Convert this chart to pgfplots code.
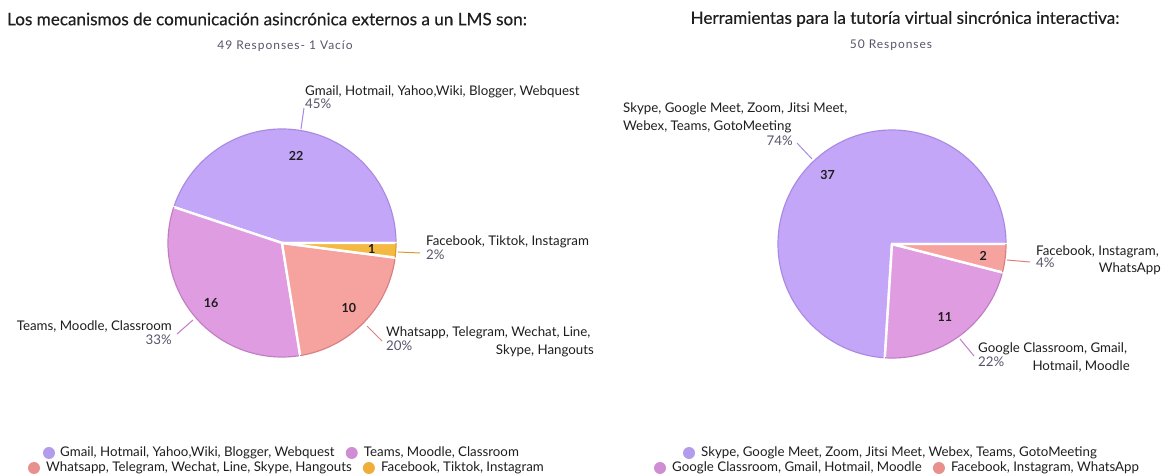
\documentclass[border=0pt]{standalone}
\usepackage{fontspec}
\setmainfont{Lato}
\usepackage{pgfplots}
\usepackage{pgfplotstable}
\pgfplotsset{compat=1.18}

\definecolor{cPur}{HTML}{C4A6F8}
\definecolor{cPurR}{HTML}{A88AE4}
\definecolor{cPnk}{HTML}{E09CE0}
\definecolor{cPnkR}{HTML}{C27CC6}
\definecolor{cSal}{HTML}{F6A29E}
\definecolor{cSalR}{HTML}{D88080}
\definecolor{cOrg}{HTML}{F4B942}
\definecolor{cOrgR}{HTML}{D99B28}
\definecolor{lPur}{HTML}{B49CEC}
\definecolor{lPnk}{HTML}{CF8DD4}
\definecolor{lSal}{HTML}{E8908E}
\definecolor{lOrg}{HTML}{EFAE3A}
\definecolor{txt}{HTML}{1E1E1E}
\definecolor{pct}{HTML}{55556A}

% respuestas por grupo
\pgfplotstableread{
grupo n
Gmail 22
Teams 16
Whatsapp 10
Facebook 1
}\pieone
\pgfplotstableread{
grupo n
Skype 37
Google 11
Facebook 2
}\pietwo

\newcommand\getn[3]{\pgfplotstablegetelem{#2}{n}\of#1\edef#3{\pgfplotsretval}}
\getn\pieone{0}\oA \getn\pieone{1}\oB \getn\pieone{2}\oC \getn\pieone{3}\oD
\getn\pietwo{0}\tA \getn\pietwo{1}\tB \getn\pietwo{2}\tC

% cumulative angles
\pgfmathsetmacro\oT{\oA+\oB+\oC+\oD}
\pgfmathsetmacro\oa{360*\oA/\oT}
\pgfmathsetmacro\ob{\oa+360*\oB/\oT}
\pgfmathsetmacro\oc{\ob+360*\oC/\oT}
\pgfmathsetmacro\tT{\tA+\tB+\tC}
\pgfmathsetmacro\ta{360*\tA/\tT}
\pgfmathsetmacro\tb{\ta+360*\tB/\tT}

% cx, cy, from, to, fill, rim
\newcommand\slice[6]{%
  \addplot[draw=white, line width=2.4pt, fill=#5, line join=round,
    domain=#3:#4, samples=120, variable=\t]
    ({#1+115*cos(t)},{#2-115*sin(t)}) -- (axis cs:#1,#2) -- cycle;
  \addplot[draw=#6, line width=1.2pt, domain=#3:#4, samples=120, variable=\t]
    ({#1+114*cos(t)},{#2-114*sin(t)});
}
% cx, cy, from, to, radius, text
\newcommand\num[6]{%
  \node[font=\bfseries\fontsize{12.5}{13}\selectfont, text=txt]
    at (axis cs:{#1+#5*cos((#3+#4)/2)},{#2-#5*sin((#3+#4)/2)}) {#6};
}
\newcommand\lab{\fontsize{13.3}{15}\selectfont}
\newcommand\sub{\fontsize{12}{14}\selectfont\addfontfeatures{LetterSpace=8}}
\newcommand\ttl{\fontsize{17.1}{20}\selectfont\addfontfeatures{FakeBold=0.4}}

\begin{document}
\begin{tikzpicture}
\useasboundingbox (0,0) rectangle (1162pt,476pt);
\begin{axis}[at={(581pt,238pt)}, anchor=center, scale only axis,
  width=1162pt, height=476pt, xmin=0, xmax=1162, ymin=0, ymax=476,
  y dir=reverse, hide axis, clip=false]
\slice{282}{243}{0}{\oa}{cPur}{cPurR}
\slice{282}{243}{\oa}{\ob}{cPnk}{cPnkR}
\slice{282}{243}{\ob}{\oc}{cSal}{cSalR}
\slice{282}{243}{\oc}{360}{cOrg}{cOrgR}
\num{282}{243}{0}{\oa}{88}{\oA}
\num{282}{243}{\oa}{\ob}{93}{\oB}
\num{282}{243}{\ob}{\oc}{93}{\oC}
\num{282}{243}{\oc}{360}{90}{\oD}

\slice{892}{244}{0}{\ta}{cPur}{cPurR}
\slice{892}{244}{\ta}{\tb}{cPnk}{cPnkR}
\slice{892}{244}{\tb}{360}{cSal}{cSalR}
\num{892}{244}{0}{\ta}{94}{\tA}
\num{892}{244}{\ta}{\tb}{90}{\tB}
\num{892}{244}{\tb}{360}{92}{\tC}
\end{axis}

\begin{scope}[shift={(0,476pt)}, x=1pt, y=-1pt, every node/.style={inner sep=0, text=txt}]
% titles
\node[font=\ttl] at (267,19) {Los mecanismos de comunicación asincrónica externos a un LMS son:};
\node[font=\sub, text=pct] at (285,46) {49 Responses- 1 Vacío};
\node[font=\ttl] at (905,19) {Herramientas para la tutoría virtual sincrónica interactiva:};
\node[font=\sub, text=pct] at (891,45) {50 Responses};

% slice labels, chart 1
\draw[cPurR, line width=1pt] (301,129) -- (304,108);
\node[anchor=west, font=\lab] at (305,92) {Gmail, Hotmail, Yahoo,Wiki, Blogger, Webquest};
\node[anchor=west, font=\lab, text=pct] at (305,104) {45\%};
\draw[cOrgR, line width=1pt] (398,252) -- (420,253);
\node[anchor=west, font=\lab] at (426,242) {Facebook, Tiktok, Instagram};
\node[anchor=west, font=\lab, text=pct] at (426,255) {2\%};
\draw[cSalR, line width=1pt] (367,326) -- (382,341);
\node[anchor=west, font=\lab] at (386,333) {Whatsapp, Telegram, Wechat, Line,};
\node[anchor=west, font=\lab, text=pct] at (386,346) {20\%};
\node[anchor=east, font=\lab] at (594,351) {Skype, Hangouts};
\draw[cPnkR, line width=1pt] (193,320) -- (177,334);
\node[anchor=east, font=\lab] at (172,327) {Teams, Moodle, Classroom};
\node[anchor=east, font=\lab, text=pct] at (172,340) {33\%};

% slice labels, chart 2
\draw[cPurR, line width=1pt] (797,143) -- (812,159);
\node[anchor=west, font=\lab] at (623,109) {Skype, Google Meet, Zoom, Jitsi Meet,};
\node[anchor=west, font=\lab] at (623,127) {Webex, Teams, GotoMeeting};
\node[anchor=east, font=\lab, text=pct] at (793,141) {74\%};
\draw[cSalR, line width=1pt] (1007,260) -- (1030,262);
\node[anchor=west, font=\lab] at (1036,252) {Facebook, Instagram,};
\node[anchor=west, font=\lab, text=pct] at (1036,263) {4\%};
\node[anchor=east, font=\lab] at (1161,269) {WhatsApp};
\draw[cPnkR, line width=1pt] (960,339) -- (974,356);
\node[anchor=west, font=\lab] at (978,349) {Google Classroom, Gmail,};
\node[anchor=west, font=\lab, text=pct] at (978,362) {22\%};
\node[anchor=east, font=\lab] at (1130,367) {Hotmail, Moodle};

% legends
\fill[lPur] (49,453) circle (6pt);
\node[anchor=west, font=\lab] (a1) at (60,453) {Gmail, Hotmail, Yahoo,Wiki, Blogger, Webquest};
\fill[lPnk] ([xshift=17pt]a1.east) circle (6pt);
\node[anchor=west, font=\lab] at ([xshift=29pt]a1.east) {Teams, Moodle, Classroom};
\fill[lSal] (34,468) circle (6pt);
\node[anchor=west, font=\lab] (a2) at (46,468) {Whatsapp, Telegram, Wechat, Line, Skype, Hangouts};
\fill[lOrg] ([xshift=17pt]a2.east) circle (6pt);
\node[anchor=west, font=\lab] at ([xshift=29pt]a2.east) {Facebook, Tiktok, Instagram};

\fill[lPur] (689,453) circle (6pt);
\node[anchor=west, font=\lab] at (701,453) {Skype, Google Meet, Zoom, Jitsi Meet, Webex, Teams, GotoMeeting};
\fill[lPnk] (660,468) circle (6pt);
\node[anchor=west, font=\lab] (b2) at (672,468) {Google Classroom, Gmail, Hotmail, Moodle};
\fill[lSal] ([xshift=17pt]b2.east) circle (6pt);
\node[anchor=west, font=\lab] at ([xshift=29pt]b2.east) {Facebook, Instagram, WhatsApp};
\end{scope}
\end{tikzpicture}
\end{document}
